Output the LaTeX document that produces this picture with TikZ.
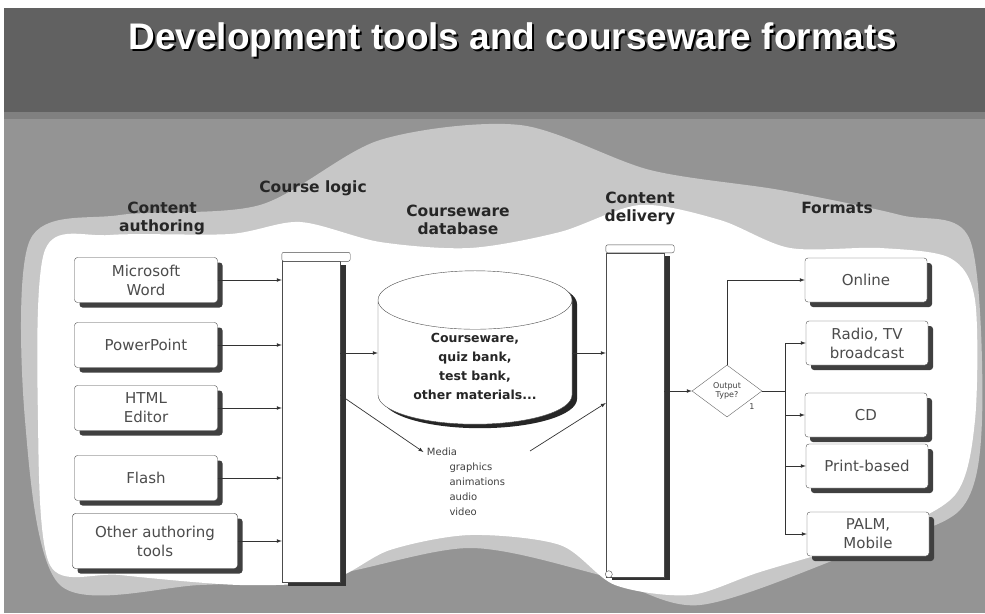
\documentclass[tikz,border=0pt]{standalone}
\usepackage{fontspec}
\setmainfont{DejaVu Sans}
\newfontfamily\titlefont{Liberation Sans}
\usetikzlibrary{shapes.geometric, shadows, positioning, calc, arrows}

\tikzset{
	heading/.style={font=\bfseries\fontsize{15.5}{18}\selectfont, text=black!85, align=center},
	toolbox/.style={draw=black!70, fill=white, rounded corners=3pt, align=center,
		minimum width=143pt, minimum height=45pt, inner sep=2pt,
		font=\fontsize{15}{19}\selectfont, text=black!70,
		drop shadow={shadow xshift=5pt, shadow yshift=-5pt, fill=black!75, opacity=1}},
	formatbox/.style={toolbox, minimum width=122pt, minimum height=44pt},
	bar/.style={draw=black!70, fill=white, minimum width=58pt,
		drop shadow={shadow xshift=6pt, shadow yshift=-3pt, fill=black!80, opacity=1}},
	flow/.style={draw=black!80, line width=0.7pt, ->, >=latex},
	link/.style={draw=black!80, line width=0.7pt}
}

\begin{document}
\begin{tikzpicture}[x=1pt, y=-1pt]
	\useasboundingbox (0,0) rectangle (985,613);
	% backdrop
	\fill[white] (0,0) rectangle (985,613);
	\fill[black!42] (4,116) rectangle (985,613);
	\fill[black!22] plot[smooth cycle] coordinates {(30,240) (120,215) (260,205) (380,140) (520,125) (650,170) (780,190) (900,215) (970,240) (982,420) (960,510) (860,550) (700,605) (600,575) (470,548) (330,575) (200,585) (60,585) (25,420)};
	\fill[white] plot[smooth cycle] coordinates {(45,250) (110,235) (230,234) (300,222) (380,242) (470,248) (560,232) (640,205) (720,220) (790,248) (880,248) (950,258) (975,300) (975,420) (955,495) (880,535) (760,572) (690,595) (615,585) (560,545) (470,535) (390,550) (330,580) (240,585) (120,575) (50,565) (38,420)};
	% title band
	\fill[black!62] (4,8) rectangle (985,112);
	\fill[black!50] (4,112) rectangle (985,119);
	\node[anchor=base, font=\titlefont\bfseries\fontsize{37}{40}\selectfont, text=black] (titleshadow) at (515,51) {Development tools and courseware formats};
	\node[anchor=base, font=\titlefont\bfseries\fontsize{37}{40}\selectfont, text=white] (title) at (513,49) {Development tools and courseware formats};

	% column headings
	\node[heading] (hauthor) at (162,218) {Content\\authoring};
	\node[heading] (hlogic) at (313,188) {Course logic};
	\node[heading] (hdb) at (458,220) {Courseware\\database};
	\node[heading] (hdeliver) at (640,208) {Content\\delivery};
	\node[heading] (hformat) at (837,208) {Formats};

	% authoring tools
	\node[toolbox] (word) at (146,280) {Microsoft\\Word};
	\node[toolbox] (ppt) at (146,345) {PowerPoint};
	\node[toolbox] (html) at (146,408) {HTML\\Editor};
	\node[toolbox] (flash) at (146,478) {Flash};
	\node[toolbox, minimum width=165pt, minimum height=55pt, draw=black!85] (other) at (155,541) {Other authoring\\tools};

	% course logic and delivery bars
	\node[bar, minimum height=321pt] (logic) at (311,422) {};
	\draw[draw=black!70, fill=white, rounded corners=2pt] (logic.north west) rectangle ([xshift=10pt, yshift=9pt]logic.north east);
	\node[bar, minimum height=324pt] (delivery) at (635,415) {};
	\draw[draw=black!70, fill=white, rounded corners=2pt] (delivery.north west) rectangle ([xshift=10pt, yshift=8pt]delivery.north east);
	\draw[draw=black!70, fill=white] ([xshift=3pt, yshift=3pt]delivery.south west) circle (3.5pt);

	% database
	\node[cylinder, shape border rotate=90, aspect=0.45, draw=black!70, fill=white,
		minimum width=194pt, minimum height=112pt, align=center,
		font=\bfseries\fontsize{12.5}{19}\selectfont, text=black!85,
		drop shadow={shadow xshift=5pt, shadow yshift=-4pt, fill=black!85, opacity=1}] (db) at (475,366)
		{Courseware,\\quiz bank,\\test bank,\\other materials...};

	% media
	\node[font=\fontsize{10}{12}\selectfont, text=black!75] (media) at (442,452) {Media};
	\node[font=\fontsize{10}{15}\selectfont, text=black!75, align=left, anchor=north west] (medialist) at (446,459) {graphics\\animations\\audio\\video};
	\coordinate (mediaout) at (530,451);

	% decision
	\node[diamond, draw=black!60, fill=white, minimum width=70pt, minimum height=52pt, inner sep=0pt,
		align=center, font=\fontsize{8}{9}\selectfont, text=black!75] (type) at (727,391) {Output\\Type?};
	\node[font=\fontsize{8}{9}\selectfont, text=black!75] (one) at (752,407) {1};
	\coordinate (bus) at (785,391);

	% formats
	\node[formatbox] (online) at (866,280) {Online};
	\node[formatbox] (radio) at (867,343) {Radio, TV\\broadcast};
	\node[formatbox] (cd) at (866,415) {CD};
	\node[formatbox] (print) at (867,466) {Print-based};
	\node[formatbox] (palm) at (868,534) {PALM,\\Mobile};

	% connectors
	\foreach \tool in {word, ppt, html, flash, other}
		\draw[flow] (\tool.east) -- (\tool.east -| logic.west);
	\draw[flow] (logic.east |- 0,353) -- (db.west |- 0,353);
	\draw[flow] (db.east |- 0,353) -- (delivery.west |- 0,353);
	\draw[flow] ([yshift=27pt]logic.east) -- (media.west);
	\draw[flow] (mediaout) -- ([yshift=12pt]delivery.west);
	\draw[flow] (delivery.east |- type.west) -- (type.west);
	\draw[flow] (type.north) |- (online.west);
	\draw[link] (type.east) -- (bus);
	\draw[link] (bus |- radio.west) -- (bus |- palm.west);
	\foreach \fmt in {radio, cd, print, palm}
		\draw[flow] (bus |- \fmt.west) -- (\fmt.west);
\end{tikzpicture}
\end{document}
